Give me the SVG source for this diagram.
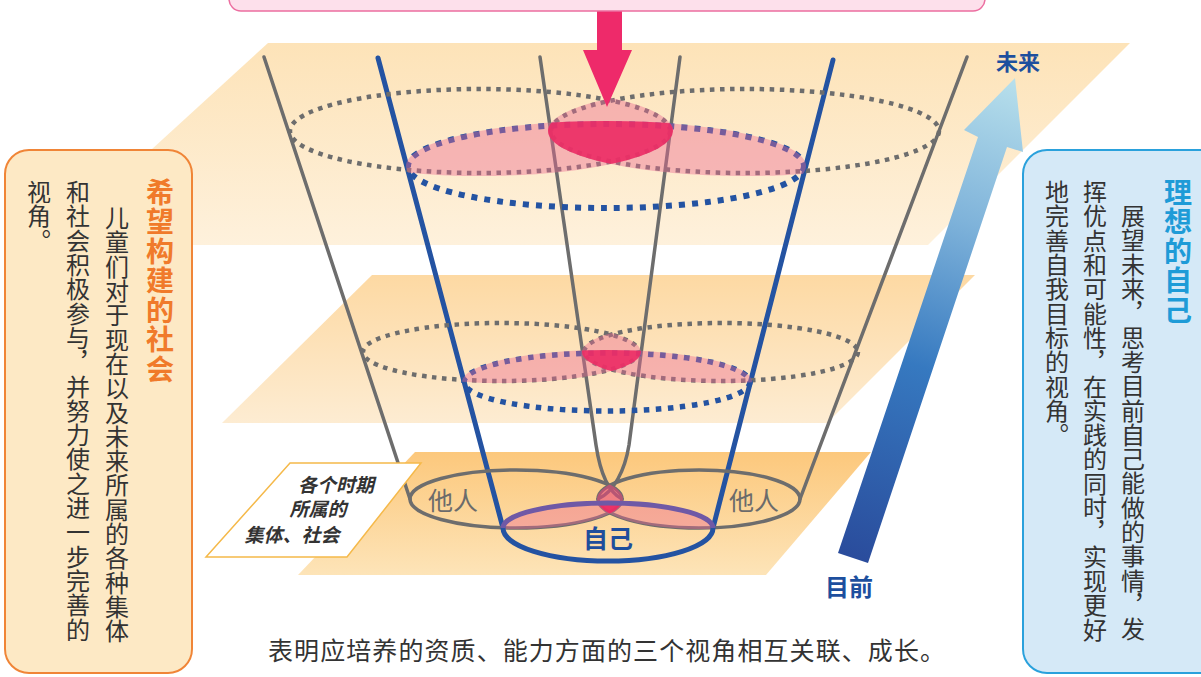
<svg xmlns="http://www.w3.org/2000/svg" width="1201" height="677" viewBox="0 0 1201 677">
<defs>
<style>
text{font-family:"Noto Sans CJK SC","Noto Sans",sans-serif;}
.vt{writing-mode:vertical-rl;font-size:24px;fill:#333;letter-spacing:0.3px}
.ttl{writing-mode:vertical-rl;font-size:28px;font-weight:bold;letter-spacing:1.5px}
.gl{fill:none;stroke:#6d6d6d;stroke-width:3.5;stroke-linecap:round;stroke-linejoin:round}
.bl{fill:none;stroke:#2453a2;stroke-width:5;stroke-linecap:round;stroke-linejoin:round}
.gd{fill:none;stroke:#6d6d6d;stroke-width:4.5;stroke-dasharray:4.5 5.5}
.bd{fill:none;stroke:#2453a2;stroke-width:6;stroke-dasharray:6 7}
.pk{fill:#ec6a92;opacity:0.42}
.dk{fill:#ec2862;opacity:0.85}
</style>
<linearGradient id="gTop" x1="0" y1="0" x2="0" y2="1"><stop offset="0" stop-color="#fde3b8"/><stop offset="1" stop-color="#fef1dc"/></linearGradient>
<linearGradient id="gMid" x1="0" y1="0" x2="0" y2="1"><stop offset="0" stop-color="#fdd9a3"/><stop offset="1" stop-color="#fdecd2"/></linearGradient>
<linearGradient id="gBot" x1="0" y1="0" x2="0" y2="1"><stop offset="0" stop-color="#fcc87c"/><stop offset="1" stop-color="#fde4b8"/></linearGradient>
<linearGradient id="gArr" gradientUnits="userSpaceOnUse" x1="853" y1="558" x2="1015" y2="78"><stop offset="0" stop-color="#2a4c9c"/><stop offset="0.4" stop-color="#3679c0"/><stop offset="0.7" stop-color="#7fb3da"/><stop offset="1" stop-color="#b8e0ec"/></linearGradient>
<clipPath id="cLt"><ellipse cx="480" cy="131" rx="193" ry="45"/></clipPath>
<clipPath id="cRt"><ellipse cx="745" cy="131" rx="197" ry="45"/></clipPath>
<clipPath id="cLRt"><ellipse cx="480" cy="131" rx="193" ry="45"/><ellipse cx="745" cy="131" rx="197" ry="45"/></clipPath>
<clipPath id="cSt"><ellipse cx="606" cy="166" rx="200" ry="45"/></clipPath>
<clipPath id="cLm"><ellipse cx="501" cy="352" rx="140" ry="31"/></clipPath>
<clipPath id="cRm"><ellipse cx="721" cy="352" rx="139" ry="31"/></clipPath>
<clipPath id="cLRm"><ellipse cx="501" cy="352" rx="140" ry="31"/><ellipse cx="721" cy="352" rx="139" ry="31"/></clipPath>
<clipPath id="cSm"><ellipse cx="607" cy="382" rx="145" ry="32"/></clipPath>
<clipPath id="cLb"><ellipse cx="516" cy="499" rx="107" ry="30"/></clipPath>
<clipPath id="cRb"><ellipse cx="699" cy="499" rx="102" ry="30"/></clipPath>
<clipPath id="cLRb"><ellipse cx="516" cy="499" rx="107" ry="30"/><ellipse cx="699" cy="499" rx="102" ry="30"/></clipPath>
<clipPath id="cSb"><path d="M501,528 A107,27 0 0 1 715,528 A107,34 0 0 1 501,528 Z"/></clipPath>
</defs>

<g id="planes">
<polygon points="268,43 1130,43 928,245 47,245" fill="url(#gTop)"/>
<polygon points="372,275 975,275 827,423 222,423" fill="url(#gMid)"/>
<polygon points="415,452 871,452 766,575 298,575" fill="url(#gBot)"/>
</g>

<g id="funnel">
<path class="gl" d="M264,57 L410,499"/>
<path class="gl" d="M967,57 L800,499"/>
<path class="gl" d="M540,57 L596,445 C600,472 608,492 622,499"/>
<path class="gl" d="M680,57 L629,445 C625,470 614,492 598,499"/>
<path class="bl" d="M378,58 L503,528"/>
<path class="bl" d="M833,60 L713,528"/>
</g>

<g id="level-top">
<ellipse class="gd" cx="480" cy="131" rx="190" ry="42"/>
<ellipse class="gd" cx="745" cy="131" rx="194" ry="42"/>
<ellipse class="bd" cx="606" cy="166" rx="198" ry="42"/>
<g clip-path="url(#cSt)"><rect class="pk" clip-path="url(#cLRt)" x="250" y="60" width="720" height="180"/></g>
<g clip-path="url(#cLt)"><rect class="pk" clip-path="url(#cRt)" x="250" y="60" width="720" height="180"/></g>
<g clip-path="url(#cSt)"><g clip-path="url(#cLt)"><rect class="dk" clip-path="url(#cRt)" x="250" y="60" width="720" height="180"/></g></g>
</g>

<g id="level-mid">
<ellipse class="gd" cx="501" cy="352" rx="138" ry="29"/>
<ellipse class="gd" cx="721" cy="352" rx="137" ry="29"/>
<ellipse class="bd" cx="607" cy="382" rx="143" ry="29" style="stroke-width:5.5;stroke-dasharray:5.5 6.5"/>
<g clip-path="url(#cSm)"><rect class="pk" clip-path="url(#cLRm)" x="300" y="300" width="620" height="130"/></g>
<g clip-path="url(#cLm)"><rect class="pk" clip-path="url(#cRm)" x="300" y="300" width="620" height="130"/></g>
<g clip-path="url(#cSm)"><g clip-path="url(#cLm)"><rect class="dk" clip-path="url(#cRm)" x="300" y="300" width="620" height="130"/></g></g>
</g>

<g id="level-bottom">
<ellipse class="gl" cx="516" cy="499" rx="106" ry="29"/>
<ellipse class="gl" cx="699" cy="499" rx="101" ry="29"/>
<g clip-path="url(#cSb)"><rect class="pk" clip-path="url(#cLRb)" x="380" y="460" width="450" height="110"/></g>
<g clip-path="url(#cLb)"><rect clip-path="url(#cRb)" x="380" y="460" width="450" height="110" fill="#e8487a" opacity="0.6"/></g>
<g clip-path="url(#cSb)"><g clip-path="url(#cLb)"><rect class="dk" clip-path="url(#cRb)" x="380" y="460" width="450" height="110"/></g></g>
<path class="bl" d="M503,528 A105,33 0 0 0 713,528"/>
<path d="M503,528 A105,25 0 0 1 713,528" fill="none" stroke="#6f59a6" stroke-width="5"/>
<text x="453" y="510" font-size="25" fill="#6b6b6b" text-anchor="middle">他人</text>
<text x="754" y="510" font-size="25" fill="#6b6b6b" text-anchor="middle">他人</text>
<text x="608" y="548" font-size="25" font-weight="bold" fill="#1f4e9c" text-anchor="middle">自己</text>
</g>

<g id="label-groups">
<polygon points="290,463 421,463 347,557 206,557" fill="#ffffff" stroke="#f5b94a" stroke-width="1.5"/>
<g font-size="19" font-weight="bold" font-style="italic" fill="#333" text-anchor="middle">
<text x="336" y="492">各个时期</text>
<text x="318" y="516">所属的</text>
<text x="292" y="542">集体、社会</text>
</g>
</g>

<g id="connectors">
<polygon id="arrow-pink" points="597,11 622,11 622,50 632,50 607,107 583,50 597,50" fill="#ee2a6a"/>
<polygon id="arrow-time" points="838,553 978,137 964,130 1015,78 1023,152 1007,147 868,563" fill="url(#gArr)"/>
</g>

<g id="box-top">
<rect x="229" y="-20" width="756" height="31" rx="12" fill="#fde0eb" stroke="#ec6ea0" stroke-width="1.5"/>
</g>

<g id="label-future"><text x="1018" y="70" font-size="22" font-weight="bold" fill="#1d4f9e" text-anchor="middle">未来</text></g>
<g id="label-now"><text x="849" y="596" font-size="24" font-weight="bold" fill="#1d4f9e" text-anchor="middle">目前</text></g>

<g id="box-left">
<rect x="5" y="150" width="187" height="523" rx="24" fill="#fde9c5" stroke="#f08537" stroke-width="2"/>
<text class="ttl" x="160" y="178" fill="#f07a2a">希望构建的社会</text>
<text class="vt" x="117" y="206">儿童们对于现在以及未来所属的各种集体</text>
<text class="vt" x="78" y="180">和社会积极参与，并努力使之进一步完善的</text>
<text class="vt" x="39" y="180">视角。</text>
</g>

<g id="box-right">
<rect x="1023" y="150" width="200" height="523" rx="24" fill="#d5e9f7" stroke="#2aa1dc" stroke-width="2"/>
<text class="ttl" x="1178" y="178" fill="#1e9bd7">理想的自己</text>
<text class="vt" x="1133" y="204">展望未来，思考目前自己能做的事情，发</text>
<text class="vt" x="1095" y="180">挥优点和可能性，在实践的同时，实现更好</text>
<text class="vt" x="1057" y="180">地完善自我目标的视角。</text>
</g>

<g id="caption">
<text x="268" y="660" font-size="25" fill="#333" textLength="677" lengthAdjust="spacing">表明应培养的资质、能力方面的三个视角相互关联、成长。</text>
</g>
</svg>
